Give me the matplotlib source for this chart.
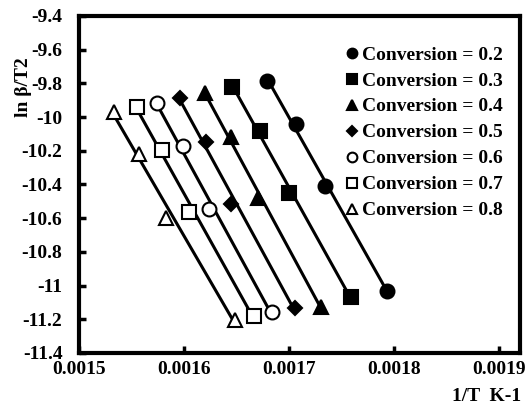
import numpy as np
import matplotlib
matplotlib.use("Agg")
import matplotlib.pyplot as plt

plt.rcParams["font.family"] = ["Liberation Serif", "DejaVu Serif"]
plt.rcParams["font.weight"] = "bold"

# 1/T (K^-1) and ln(beta/T^2) for each conversion level
conversions = ["0.2", "0.3", "0.4", "0.5", "0.6", "0.7", "0.8"]
inv_T = [
    [0.0016793, 0.0017070, 0.0017340, 0.0017938],
    [0.0016461, 0.0016727, 0.0017001, 0.0017588],
    [0.0016196, 0.0016443, 0.0016708, 0.0017305],
    [0.0015958, 0.0016205, 0.0016451, 0.0017057],
    [0.0015741, 0.0015987, 0.0016233, 0.0016839],
    [0.0015552, 0.0015789, 0.0016044, 0.0016669],
    [0.0015335, 0.0015572, 0.0015827, 0.0016490],
]
ln_beta_T2 = [
    [-9.786, -10.041, -10.409, -11.032],
    [-9.821, -10.082, -10.450, -11.067],
    [-9.857, -10.118, -10.480, -11.125],
    [-9.887, -10.148, -10.516, -11.133],
    [-9.916, -10.172, -10.545, -11.157],
    [-9.940, -10.195, -10.563, -11.180],
    [-9.970, -10.219, -10.599, -11.204],
]
markers = ["o", "s", "^", "D", "o", "s", "^"]
filled = [True, True, True, True, False, False, False]
sizes = [10, 10, 10, 7, 10, 10, 10]

fig = plt.figure(figsize=(5.31, 4.08), dpi=100)
ax = fig.add_axes([0.149, 0.135, 0.830, 0.826])

for conv, x, y, m, f, s in zip(conversions, inv_T, ln_beta_T2, markers, filled, sizes):
    x = np.array(x)
    y = np.array(y)
    k, b = np.polyfit(x, y, 1)
    xs = np.array([x.min(), x.max()])
    ax.plot(xs, k * xs + b, color="black", lw=2.2, zorder=2)
    ax.plot(x, y, ls="none", marker=m, ms=s, mec="black", mew=1.5,
            mfc="black" if f else "white", zorder=3,
            label=f"Conversion = {conv}")

ax.set_xlim(0.0015, 0.00192)
ax.set_ylim(-11.4, -9.4)
ax.set_xticks([0.0015, 0.0016, 0.0017, 0.0018, 0.0019])
ax.set_xticklabels(["0.0015", "0.0016", "0.0017", "0.0018", "0.0019"])
ax.set_yticks(np.arange(-11.4, -9.39, 0.2))
ax.set_yticklabels(["-11.4", "-11.2", "-11", "-10.8", "-10.6", "-10.4",
                    "-10.2", "-10", "-9.8", "-9.6", "-9.4"])
ax.tick_params(direction="in", length=5, width=2.5, labelsize=14)
ax.tick_params(axis="y", pad=12)
ax.tick_params(axis="x", pad=6)
for sp in ax.spines.values():
    sp.set_linewidth(3)

fig.text(0.045, 0.787, "ln β/T2", rotation=90, ha="center", va="center",
         fontsize=14, fontweight="bold")
fig.text(0.982, 0.027, "1/T  K-1", ha="right", va="center",
         fontsize=14, fontweight="bold")

ax.legend(loc="upper right", bbox_to_anchor=(0.979, 0.934), frameon=False,
          fontsize=14, markerscale=0.7, handlelength=0.6, handletextpad=0.2,
          labelspacing=0.43, borderaxespad=0)

fig.savefig("out.png", dpi=100)
